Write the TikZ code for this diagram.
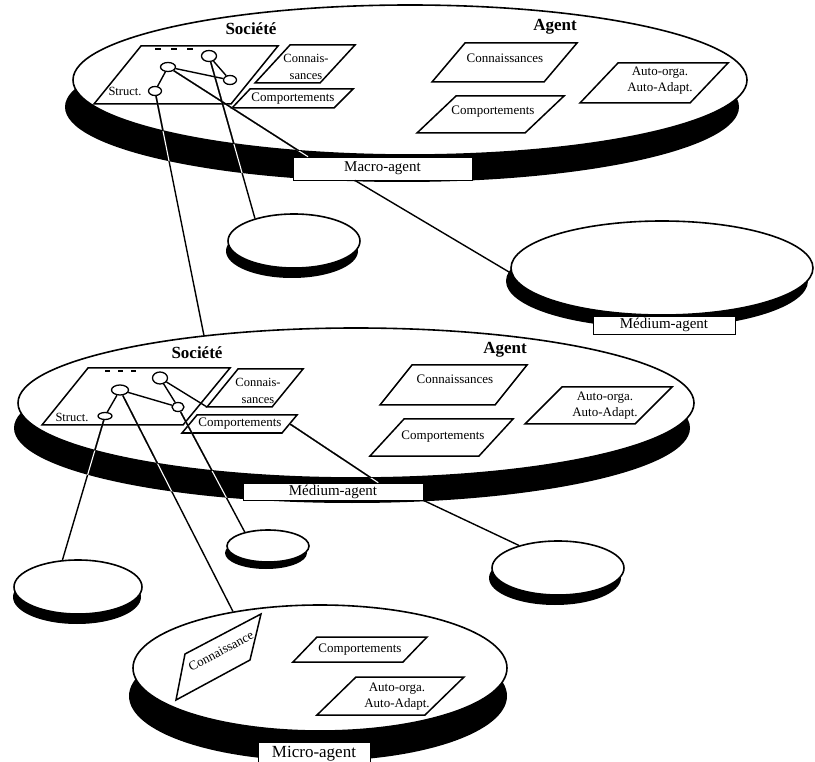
\documentclass[tikz,border=0pt]{standalone}
\usepackage{fontspec}
\setmainfont{Liberation Serif}
\usetikzlibrary{shapes.geometric}

\begin{document}
\begin{tikzpicture}[
  x=1pt, y=-1pt,
  font=\fontsize{13}{15}\selectfont,
  disk/.style={ellipse, draw, fill=white, line width=1.6pt, inner sep=0pt},
  knot/.style={ellipse, draw, fill=white, line width=1.3pt, inner sep=0pt},
  tag/.style={draw, fill=white, line width=0.6pt, inner sep=0pt},
  slab/.style={draw, line width=1.5pt, line join=miter},
  txt/.style={inner sep=0pt, align=center},
  small/.style={inner sep=0pt, align=center, font=\fontsize{12.5}{17}\selectfont},
  head/.style={inner sep=0pt, font=\fontsize{17}{19}\selectfont\bfseries},
  link/.style={line width=1.4pt},
  rim/.style={white, line width=1.1pt}
]
\useasboundingbox (0,0) rectangle (815,762);

% dark rims under the disks
\fill (402,107) ellipse [x radius=337pt, y radius=75pt];
\fill (352,428) ellipse [x radius=338pt, y radius=75pt];
\fill (657,281) ellipse [x radius=151pt, y radius=47pt];
\fill (318,696) ellipse [x radius=189pt, y radius=65pt];
\fill (292,251) ellipse [x radius=66pt, y radius=27pt];
\fill (266,553) ellipse [x radius=41pt, y radius=16pt];
\fill (555,578) ellipse [x radius=66pt, y radius=27pt];
\fill (77,597) ellipse [x radius=64pt, y radius=27pt];

% disks
\node[disk, minimum width=674pt, minimum height=150pt] (macro) at (410,80) {};
\node[disk, minimum width=676pt, minimum height=150pt] (medium) at (356,403) {};
\node[disk, minimum width=302pt, minimum height=94pt] (medium2) at (662,268) {};
\node[disk, minimum width=374pt, minimum height=126pt] (micro) at (320,668) {};
\node[disk, minimum width=132pt, minimum height=54pt] (s1) at (294,241) {};
\node[disk, minimum width=82pt, minimum height=32pt] (s2) at (268,546) {};
\node[disk, minimum width=132pt, minimum height=54pt] (s3) at (558,568) {};
\node[disk, minimum width=128pt, minimum height=54pt] (s4) at (78,587) {};

% level tags
\node[tag, minimum width=179pt, minimum height=23pt, font=\fontsize{15}{17}\selectfont]
  (macrotag) at (382.5,168.5) {Macro-agent};
\node[tag, minimum width=180pt, minimum height=17pt, font=\fontsize{15}{17}\selectfont]
  (mediumtag) at (333,491.5) {Médium-agent};
\node[tag, minimum width=142pt, minimum height=18pt, font=\fontsize{15}{17}\selectfont]
  (medium2tag) at (664,325) {Médium-agent};
\node[tag, minimum width=112pt, minimum height=24pt, font=\fontsize{17}{19}\selectfont]
  (microtag) at (314,754) {Micro-agent};

% macro-agent
\node[head] (soc1) at (251,29) {Société};
\node[head] (ag1) at (555,27) {Agent};
\draw[slab] (94,104) -- (141,46) -- (278,46) -- (231,104) -- cycle;
\node[small] (st1) at (125,91) {Struct.};
\draw[line width=2pt, dash pattern=on 6pt off 10pt] (155,49) -- (198,49);
\node[knot, minimum width=15pt, minimum height=9pt] (ta) at (168,67) {};
\node[knot, minimum width=15pt, minimum height=11pt] (tb) at (209,56) {};
\node[knot, minimum width=13pt, minimum height=9pt] (tc) at (230,80) {};
\node[knot, minimum width=13pt, minimum height=9pt] (td) at (155,91) {};
\draw[link] (ta) -- (td) (ta) -- (tc) (tb) -- (tc);
\draw[slab] (255,83) -- (290,45) -- (355,45) -- (320,83) -- cycle;
\node[small] (tcon) at (306,67) {Connais-\\sances};
\draw[slab] (232,108) -- (250,89) -- (353,89) -- (334,108) -- cycle;
\node[txt] (tcomp) at (293,99) {Comportements};
\draw[slab] (432,82) -- (465,43) -- (577,43) -- (544,82) -- cycle;
\node[txt] (tcon2) at (505,58) {Connaissances};
\draw[slab] (417,133) -- (456,96) -- (564,96) -- (525,133) -- cycle;
\node[txt] (tcomp2) at (493,112) {Comportements};
\draw[slab] (580,103) -- (618,63) -- (728,63) -- (690,103) -- cycle;
\node[txt, font=\fontsize{13}{16}\selectfont] (tauto) at (660,81) {Auto-orga.\\Auto-Adapt.};

% medium-agent
\node[head] (soc2) at (197,353) {Société};
\node[head] (ag2) at (505,350) {Agent};
\draw[slab] (42,425) -- (88,368) -- (230,368) -- (183,425) -- cycle;
\node[small] (st2) at (72,417) {Struct.};
\draw[line width=2pt, dash pattern=on 5pt off 8pt] (105,371) -- (143,371);
\node[knot, minimum width=17pt, minimum height=10pt] (ma) at (120,390) {};
\node[knot, minimum width=15pt, minimum height=12pt] (mb) at (160,378) {};
\node[knot, minimum width=12pt, minimum height=9pt] (mc) at (178,407) {};
\node[knot, minimum width=14pt, minimum height=7pt] (md) at (105,416) {};
\draw[link] (ma) -- (md) (ma) -- (mc) (mb) -- (mc);
\draw[slab] (207,407) coordinate (mcon-bl) -- (238,369) -- (303,369) -- (272,407) -- cycle;
\node[small] (mcon) at (258,391) {Connais-\\sances};
\draw[slab] (182,433) -- (197,415) -- (297,415) -- (282,433) -- cycle;
\coordinate (mcomp-r) at (290,424);
\node[txt] (mcomp) at (240,424) {Comportements};
\draw[slab] (380,405) -- (412,365) -- (527,365) -- (495,405) -- cycle;
\node[txt] (mcon2) at (455,379) {Connaissances};
\draw[slab] (370,456) -- (404,419) -- (513,419) -- (479,456) -- cycle;
\node[txt] (mcomp2) at (443,437) {Comportements};
\draw[slab] (525,424) -- (562,387) -- (672,387) -- (635,424) -- cycle;
\node[txt, font=\fontsize{13}{16}\selectfont] (mauto) at (605,406) {Auto-orga.\\Auto-Adapt.};

% micro-agent
\draw[slab] (176,700) -- (185,654) -- (261,614) -- (250,660) -- cycle;
\node[txt, rotate=28] (ucon) at (221,651) {Connaissance};
\draw[slab] (293,662) -- (317,637) -- (427,637) -- (403,662) -- cycle;
\node[txt] (ucomp) at (360,650) {Comportements};
\draw[slab] (317,715) -- (356,677) -- (464,677) -- (425,715) -- cycle;
\node[txt, font=\fontsize{13}{16}\selectfont] (uauto) at (397,697) {Auto-orga.\\Auto-Adapt.};

% links between levels
\draw[link] (td) -- (medium.156);
\draw[link] (tb) -- (s1.150);
\draw[link] (ta) -- (macrotag.171);
\draw[link] (macrotag.203) -- (medium2.182);
\draw[link] (mb) -- (mcon-bl);
\draw[link] (mc) -- (s2.149);
\draw[link] (mcomp-r) -- (mediumtag.11);
\draw[link] (mediumtag.south east) -- (s3.150);
\draw[link] (md) -- (s4.120);
\draw[link] (ma) -- (micro.147);

% links turn white where they cross a dark rim
\begin{scope}
  \clip (402,107) ellipse [x radius=337pt, y radius=75pt];
  \draw[rim] (td) -- (medium.156) (tb) -- (s1.150) (ta) -- (macrotag.171);
\end{scope}
\begin{scope}
  \clip (410,80) ellipse [x radius=337pt, y radius=75pt];
  \draw[link] (td) -- (medium.156) (tb) -- (s1.150) (ta) -- (macrotag.171);
\end{scope}
\begin{scope}
  \clip (352,428) ellipse [x radius=338pt, y radius=75pt];
  \draw[rim] (mc) -- (s2.149) (md) -- (s4.120) (ma) -- (micro.147)
    (mcomp-r) -- (mediumtag.11);
\end{scope}
\begin{scope}
  \clip (356,403) ellipse [x radius=338pt, y radius=75pt];
  \draw[link] (mc) -- (s2.149) (md) -- (s4.120) (ma) -- (micro.147)
    (mcomp-r) -- (mediumtag.11);
\end{scope}
\end{tikzpicture}
\end{document}
